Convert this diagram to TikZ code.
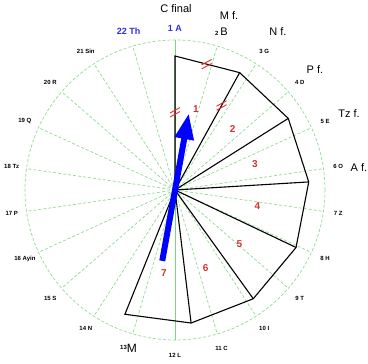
\documentclass[tikz,border=0pt]{standalone}
\usepackage{fontspec}
\setmainfont{Liberation Sans}
\usetikzlibrary{arrows.meta}

\definecolor{gridgreen}{RGB}{145,218,145}
\definecolor{axisgreen}{RGB}{120,215,120}
\definecolor{numred}{RGB}{210,50,50}
\definecolor{tickred}{RGB}{235,45,45}
\definecolor{letterblue}{RGB}{45,45,235}

\tikzset{
  grid line/.style={gridgreen, line width=0.7pt, dash pattern=on 3pt off 2pt},
  axis line/.style={axisgreen, line width=0.8pt},
  wedge/.style={black, line width=1.1pt, line join=miter},
  letter/.style={font=\bfseries\fontsize{6}{6}\selectfont, inner sep=0pt},
  topletter/.style={font=\bfseries\fontsize{9}{9}\selectfont, text=letterblue, inner sep=0pt},
  final/.style={font=\fontsize{11}{11}\selectfont, inner sep=0pt},
  wedgenum/.style={font=\bfseries\fontsize{10}{10}\selectfont, text=numred, inner sep=0pt},
  dbltick/.pic={\draw[tickred, line width=0.9pt] (-5,-0.7) -- (5,4.7) (-5,-4.7) -- (5,0.7);},
}

\begin{document}
\begin{tikzpicture}[x=1pt,y=1pt]
  \useasboundingbox (-175,-174) rectangle (193,190);
  \coordinate (o) at (0,0);

  % the 22 letter rays
  \foreach \k in {0,...,21}
    \coordinate (r\k) at ({90-\k*360/22}:150);
  \draw[grid line] (o) circle (150pt);
  \foreach \k in {1,...,10,12,13,...,21}
    \draw[grid line] (o) -- (r\k);
  \draw[axis line] (r0) -- (r11);

  % the seven wedges
  \foreach \k in {0,...,7}
    \coordinate (v\k) at ({90-\k*28.85}:134);
  \draw[wedge] (o) -- (v0) -- (v1) -- (v2) -- (v3) -- (v4) -- (v5) -- (v6) -- (v7) -- cycle;
  \foreach \k in {1,...,6}
    \draw[wedge] (o) -- (v\k);
  \foreach \n in {1,...,7}
    \node[wedgenum] (num\n) at ({90-(\n-0.5)*28.85}:84) {\n};

  % equal sides
  \path (o) -- coordinate[pos=0.58] (t0) (v0);
  \path (o) -- coordinate[pos=0.72] (t1) (v1);
  \path (v0) -- coordinate[pos=0.49] (t2) (v1);
  \foreach \t in {t0,t1,t2}
    \pic at (\t) {dbltick};

  % letters round the rim
  \node[topletter] (lab0) at (90:162) {1 A};
  \node[topletter] (lab21) at ({90+360/22}:165) {22 Th};
  \foreach \txt [count=\k from 1] in {{2\,\,{\mdseries\fontsize{11}{11}\selectfont B}},
      3 G, 4 D, 5 E, 6 O, 7 Z, 8 H, 9 T, 10 I, 11 C, 12 L,
      {\raisebox{3pt}{13}{\mdseries\fontsize{12}{12}\selectfont M}},
      14 N, 15 S, 16 Ayin, 17 P, 18 Tz, 19 Q, 20 R, 21 Sin}
    \node[letter] (lab\k) at ({90-\k*360/22}:165) {\txt};

  % final forms
  \node[final] (cfin) at (1,181) {C final};
  \node[final] (mfin) at (54,174) {M f.};
  \node[final] (nfin) at (103,158) {N f.};
  \node[final] (pfin) at (140,120) {P f.};
  \node[final] (tzfin) at (174,76) {Tz f.};
  \node[final] (afin) at (184,22) {A f.};

  % blue arrow
  \coordinate (tail) at (259.8:72);
  \coordinate (tip) at (79.8:78);
  \draw[blue, line width=6pt, -{Triangle[length=26pt,width=18pt]}] (tail) -- (tip);
\end{tikzpicture}
\end{document}
